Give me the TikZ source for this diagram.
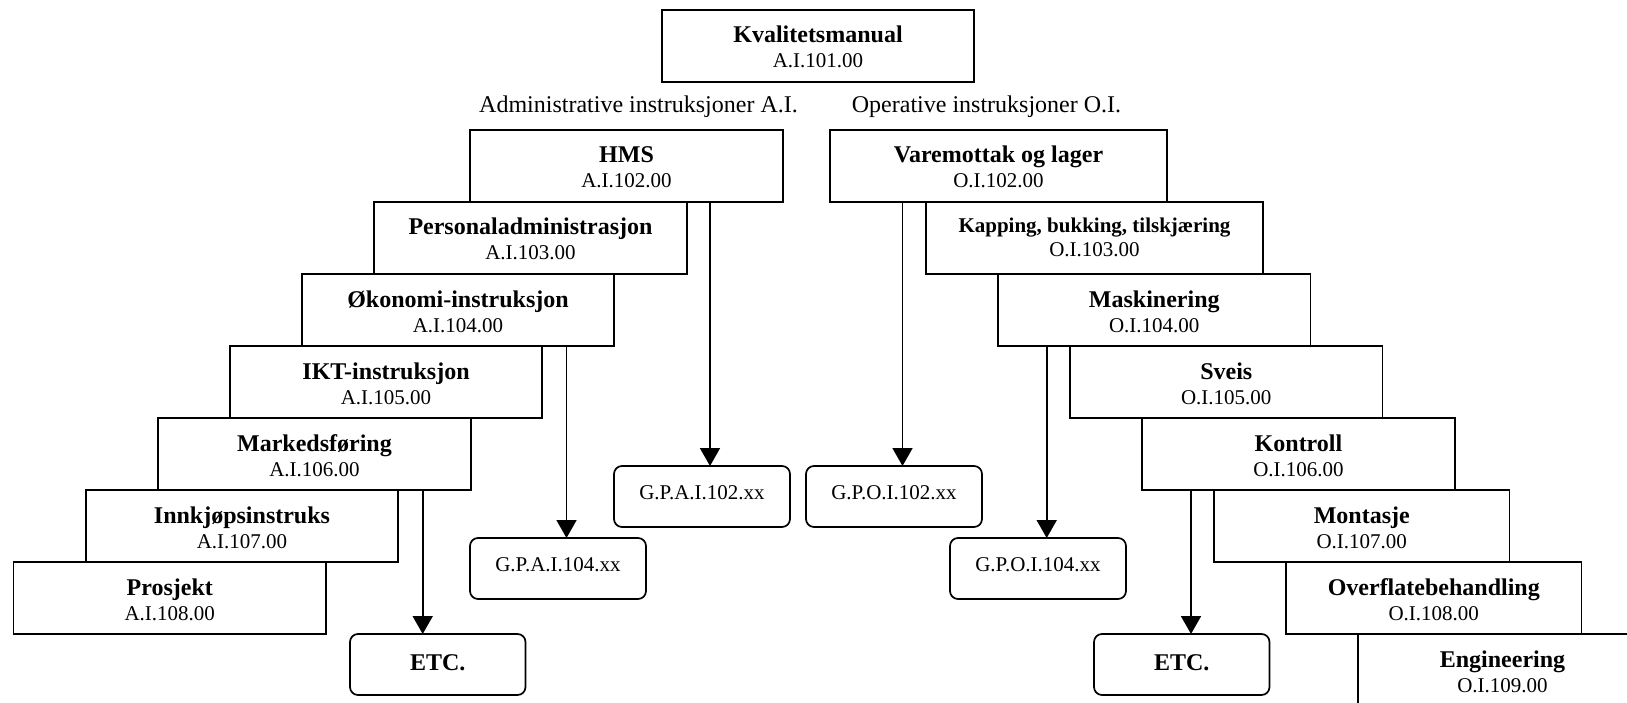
\documentclass[tikz,border=0pt]{standalone}
\usepackage{fontspec}
\setmainfont{Liberation Serif}
\usetikzlibrary{arrows.meta}

\tikzset{
  docbox/.style={draw, line width=1.9pt, minimum height=72pt, inner sep=0pt,
                 outer sep=0pt, anchor=north west},
  gpbox/.style={draw, rounded corners=8pt, line width=1.7pt, minimum width=176pt,
                minimum height=61pt, inner sep=0pt, outer sep=0pt, anchor=north west},
  ttl/.style={anchor=base, inner sep=0pt, font=\fontsize{24pt}{26pt}\selectfont\bfseries},
  smallttl/.style={anchor=base, inner sep=0pt, font=\fontsize{21pt}{24pt}\selectfont\bfseries},
  codetxt/.style={anchor=base, inner sep=0pt, font=\fontsize{21pt}{24pt}\selectfont},
  headtxt/.style={anchor=base, inner sep=0pt, font=\fontsize{24pt}{26pt}\selectfont},
  arr/.style={line width=1.8pt, -{Triangle[width=20pt,length=18pt]}},
}

% name, left, top, width, title, code
\newcommand\docnode[6]{%
  \node[docbox, minimum width=#4pt] (#1) at (#2,#3) {};
  \node[ttl] (#1-title) at ([yshift=-33pt]#1.north) {#5};
  \node[codetxt] (#1-code) at ([yshift=-58pt]#1.north) {#6};
}

\begin{document}
\begin{tikzpicture}[x=1pt, y=-1pt]
  \useasboundingbox (0,0) rectangle (1627,703);
  \begin{scope}
    \clip (0,0) rectangle (1627,703);

    % quality manual
    \docnode{kval}{662}{10}{312}{Kvalitetsmanual}{A.I.101.00}

    \node[headtxt] (admhead) at (638.5,113) {Administrative instruksjoner A.I.};
    \node[headtxt] (ophead) at (986.5,113) {Operative instruksjoner O.I.};

    % administrative instructions
    \docnode{hms}{470}{130}{313}{HMS}{A.I.102.00}
    \docnode{pers}{374}{202}{313}{Personaladministrasjon}{A.I.103.00}
    \docnode{okon}{302}{274}{312}{Økonomi-instruksjon}{A.I.104.00}
    \docnode{ikt}{230}{346}{312}{IKT-instruksjon}{A.I.105.00}
    \docnode{mark}{158}{418}{313}{Markedsføring}{A.I.106.00}
    \docnode{innk}{86}{490}{312}{Innkjøpsinstruks}{A.I.107.00}
    \docnode{pros}{13.5}{562}{312.5}{Prosjekt}{A.I.108.00}

    % operative instructions
    \docnode{vare}{830}{130}{337}{Varemottak og lager}{O.I.102.00}
    \node[docbox, minimum width=337pt] (kap) at (926,202) {};
    \node[smallttl] (kap-title) at ([yshift=-31pt]kap.north) {Kapping, bukking, tilskjæring};
    \node[codetxt] (kap-code) at ([yshift=-55pt]kap.north) {O.I.103.00};
    \docnode{mask}{998}{274}{312.5}{Maskinering}{O.I.104.00}
    \docnode{sveis}{1070}{346}{312.5}{Sveis}{O.I.105.00}
    \docnode{kontr}{1142}{418}{313}{Kontroll}{O.I.106.00}
    \docnode{mont}{1214}{490}{295.5}{Montasje}{O.I.107.00}
    \docnode{overf}{1286}{562}{295.5}{Overflatebehandling}{O.I.108.00}
    \docnode{eng}{1358}{634}{289}{Engineering}{O.I.109.00}

    % procedure boxes
    \node[gpbox] (gpa102) at (614,466) {};
    \node[codetxt] (gpa102-txt) at ([yshift=-33pt]gpa102.north) {G.P.A.I.102.xx};
    \node[gpbox] (gpa104) at (470,538) {};
    \node[codetxt] (gpa104-txt) at ([yshift=-33pt]gpa104.north) {G.P.A.I.104.xx};
    \node[gpbox, minimum width=175.5pt] (etca) at (350,634) {};
    \node[ttl] (etca-txt) at ([yshift=-36pt]etca.north) {ETC.};

    \node[gpbox] (gpo102) at (806,466) {};
    \node[codetxt] (gpo102-txt) at ([yshift=-33pt]gpo102.north) {G.P.O.I.102.xx};
    \node[gpbox] (gpo104) at (950,538) {};
    \node[codetxt] (gpo104-txt) at ([yshift=-33pt]gpo104.north) {G.P.O.I.104.xx};
    \node[gpbox, minimum width=175.5pt] (etco) at (1094,634) {};
    \node[ttl] (etco-txt) at ([yshift=-36pt]etco.north) {ETC.};

    % connectors
    \draw[arr] ([xshift=240pt]hms.south west) -- ([xshift=240pt]hms.south west |- gpa102.north);
    \draw[arr] ([xshift=264.5pt]okon.south west) -- ([xshift=264.5pt]okon.south west |- gpa104.north);
    \draw[arr] ([xshift=264.7pt]mark.south west) -- ([xshift=264.7pt]mark.south west |- etca.north);
    \draw[arr] ([xshift=72.5pt]vare.south west) -- ([xshift=72.5pt]vare.south west |- gpo102.north);
    \draw[arr] ([xshift=48.7pt]mask.south west) -- ([xshift=48.7pt]mask.south west |- gpo104.north);
    \draw[arr] ([xshift=49pt]kontr.south west) -- ([xshift=49pt]kontr.south west |- etco.north);
  \end{scope}
\end{tikzpicture}
\end{document}
